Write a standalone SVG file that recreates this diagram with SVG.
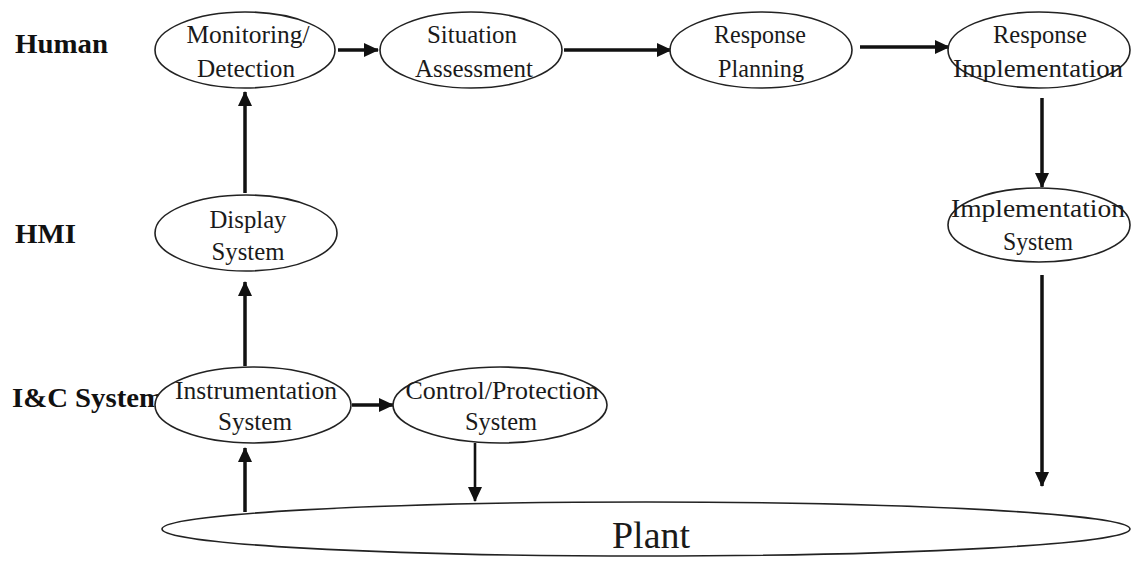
<svg xmlns="http://www.w3.org/2000/svg" width="1131" height="561" viewBox="0 0 1131 561">
<style>
.node ellipse{fill:#fff;stroke:#222;stroke-width:1.6}
.t{font-family:"Liberation Serif",serif;font-size:25.5px;fill:#1a1a1a;text-anchor:middle}
.lbl{font-family:"Liberation Serif",serif;font-size:28px;font-weight:bold;fill:#111}
.c line{stroke:#111;stroke-width:3.5;marker-end:url(#ah)}
</style>
<defs>
<marker id="ah" markerUnits="userSpaceOnUse" markerWidth="16" markerHeight="14" refX="14" refY="7" orient="auto">
<path d="M0,0 L15,7 L0,14 Z" fill="#111"/>
</marker>
</defs>
<rect width="1131" height="561" fill="#fff"/>
<text class="lbl" x="15" y="53" textLength="93" lengthAdjust="spacingAndGlyphs">Human</text>
<text class="lbl" x="15" y="243" textLength="61" lengthAdjust="spacingAndGlyphs">HMI</text>
<text class="lbl" x="12" y="407" textLength="151" lengthAdjust="spacingAndGlyphs">I&amp;C System</text>
<g class="c" id="connectors">
<line x1="338" y1="50" x2="378" y2="50"/>
<line x1="564" y1="50" x2="671" y2="50"/>
<line x1="860" y1="47" x2="949" y2="47"/>
<line x1="1042" y1="98" x2="1042" y2="187"/>
<line x1="1042" y1="275" x2="1042" y2="486"/>
<line x1="245" y1="193" x2="245" y2="92"/>
<line x1="245" y1="366" x2="245" y2="282"/>
<line x1="245" y1="512" x2="245" y2="448"/>
<line x1="352" y1="405" x2="393" y2="405"/>
<line x1="475" y1="443" x2="475" y2="501" style="stroke-width:2.6"/>
</g>
<g class="node" id="monitoring"><ellipse cx="245" cy="50" rx="90" ry="38"/><text class="t" x="248" y="43" textLength="123" lengthAdjust="spacingAndGlyphs">Monitoring/</text><text class="t" x="246" y="77" textLength="98" lengthAdjust="spacingAndGlyphs">Detection</text></g>
<g class="node" id="situation"><ellipse cx="471" cy="50" rx="91" ry="38"/><text class="t" x="472" y="43" textLength="90" lengthAdjust="spacingAndGlyphs">Situation</text><text class="t" x="474" y="77" textLength="118" lengthAdjust="spacingAndGlyphs">Assessment</text></g>
<g class="node" id="planning"><ellipse cx="761" cy="50" rx="91" ry="38"/><text class="t" x="760" y="43" textLength="92" lengthAdjust="spacingAndGlyphs">Response</text><text class="t" x="761" y="77" textLength="86" lengthAdjust="spacingAndGlyphs">Planning</text></g>
<g class="node" id="implementation"><ellipse cx="1039" cy="50" rx="91" ry="38"/><text class="t" x="1040" y="43" textLength="94" lengthAdjust="spacingAndGlyphs">Response</text><text class="t" x="1038" y="77" textLength="170" lengthAdjust="spacingAndGlyphs">Implementation</text></g>
<g class="node" id="impl-system"><ellipse cx="1039" cy="225" rx="91" ry="37"/><text class="t" x="1038" y="217" textLength="174" lengthAdjust="spacingAndGlyphs">Implementation</text><text class="t" x="1038" y="250" textLength="70" lengthAdjust="spacingAndGlyphs">System</text></g>
<g class="node" id="display"><ellipse cx="246" cy="233" rx="91" ry="38"/><text class="t" x="248" y="228" textLength="77" lengthAdjust="spacingAndGlyphs">Display</text><text class="t" x="248" y="260" textLength="73" lengthAdjust="spacingAndGlyphs">System</text></g>
<g class="node" id="instrumentation"><ellipse cx="253" cy="405" rx="98" ry="38"/><text class="t" x="256" y="399" textLength="162" lengthAdjust="spacingAndGlyphs">Instrumentation</text><text class="t" x="255" y="430" textLength="74" lengthAdjust="spacingAndGlyphs">System</text></g>
<g class="node" id="control"><ellipse cx="500" cy="405" rx="107" ry="38"/><text class="t" x="502" y="399" textLength="193" lengthAdjust="spacingAndGlyphs">Control/Protection</text><text class="t" x="501" y="430" textLength="72" lengthAdjust="spacingAndGlyphs">System</text></g>
<g class="node" id="plant"><ellipse cx="646" cy="529" rx="484" ry="27"/><text class="t" x="651" y="548" textLength="78" lengthAdjust="spacingAndGlyphs" style="font-size:38px">Plant</text></g>
</svg>
